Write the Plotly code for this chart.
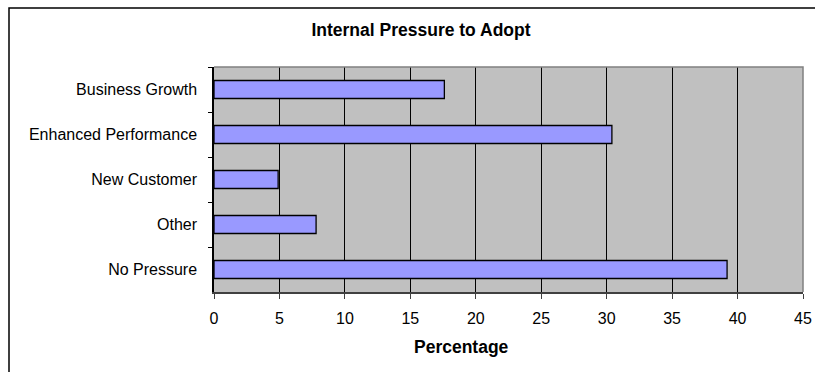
import plotly.graph_objects as go

# Survey results: internal pressure to adopt (percentage of respondents)
categories = ["Business Growth", "Enhanced Performance", "New Customer", "Other", "No Pressure"]
percentages = [17.6, 30.4, 4.9, 7.8, 39.2]
x_ticks = [0, 5, 10, 15, 20, 25, 30, 35, 40, 45]

W, H = 815, 372
L, R, T, B = 214, 12, 67, 80
plot_w = W - L - R
plot_h = H - T - B


def px_to_paper_x(px):
    return (px - L) / plot_w


def px_to_paper_y(py):
    return (H - B - py) / plot_h


FONT = "Liberation Sans, Arial, sans-serif"

fig = go.Figure(
    go.Bar(
        x=percentages,
        y=categories,
        orientation="h",
        marker=dict(color="#9999FF", line=dict(color="#000000", width=1.3)),
        hoverinfo="x+y",
    )
)

fig.update_layout(
    width=W,
    height=H,
    margin=dict(l=L, r=R, t=T, b=B, pad=0, autoexpand=False),
    paper_bgcolor="#FFFFFF",
    plot_bgcolor="#C0C0C0",
    bargap=0.6,
    showlegend=False,
    font=dict(family=FONT, size=16, color="#000000"),
    title=dict(
        text="<b>Internal Pressure to Adopt</b>",
        x=421 / W,
        xanchor="center",
        xref="container",
        y=1 - 30 / H,
        yanchor="middle",
        yref="container",
        font=dict(family=FONT, size=17.5, color="#000000"),
    ),
    xaxis=dict(
        range=[0, 45],
        tickvals=x_ticks,
        ticktext=[str(v) for v in x_ticks],
        showgrid=True,
        gridcolor="#000000",
        gridwidth=1,
        zeroline=False,
        showline=True,
        linecolor="#404040",
        linewidth=1.5,
        ticks="outside",
        ticklen=5,
        tickcolor="#404040",
        tickwidth=1,
        ticklabelstandoff=6,
        tickfont=dict(family=FONT, size=16, color="#000000"),
        automargin=False,
        fixedrange=True,
    ),
    yaxis=dict(
        categoryorder="array",
        categoryarray=categories,
        autorange="reversed",
        showgrid=False,
        zeroline=False,
        showline=True,
        linecolor="#000000",
        linewidth=1.5,
        ticks="outside",
        tickson="boundaries",
        ticklen=4,
        tickcolor="#000000",
        tickwidth=1,
        ticklabelstandoff=12,
        tickfont=dict(family=FONT, size=16, color="#000000"),
        automargin=False,
        fixedrange=True,
    ),
    annotations=[
        dict(
            text="<b>Percentage</b>",
            xref="paper",
            yref="paper",
            x=px_to_paper_x(461),
            y=px_to_paper_y(347),
            xanchor="center",
            yanchor="middle",
            showarrow=False,
            font=dict(family=FONT, size=17.5, color="#000000"),
        )
    ],
    shapes=[
        # gray border on top and right of the plot area
        dict(
            type="path",
            xref="paper",
            yref="paper",
            path="M 0 1 L 1 1 L 1 0",
            line=dict(color="#808080", width=1.5),
            layer="above",
        ),
        # outer chart frame
        dict(
            type="rect",
            xref="paper",
            yref="paper",
            x0=px_to_paper_x(9),
            x1=px_to_paper_x(W + 20),
            y0=px_to_paper_y(H + 20),
            y1=px_to_paper_y(8),
            line=dict(color="#000000", width=1.5),
            fillcolor="rgba(0,0,0,0)",
            layer="above",
        ),
    ],
)

fig.write_html("out.html")
